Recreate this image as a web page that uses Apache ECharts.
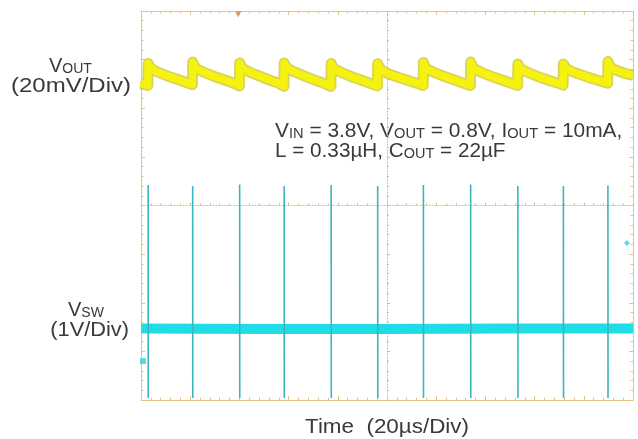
<!DOCTYPE html>
<html><head><meta charset="utf-8">
<script src="https://cdn.jsdelivr.net/npm/echarts/dist/echarts.min.js"></script>
<style>html,body{margin:0;padding:0;background:#fff}#c{width:638px;height:439px}</style>
</head><body><div id="c"></div>
<script>
// ---- data ----
// time axis: 10 divisions x 20 µs
const timeMinUs = 0, timeMaxUs = 200, timeDivUs = 20;
// VOUT (ac, mV) 20 mV/div, 8 divisions
const voutMinMv = -130, voutMaxMv = 30;
const voutTime = [0, 1.5, 2.8,
  2.9, 3.6, 4.8, 7.5, 11, 15, 18.5, 20.9,
  21.0, 21.7, 22.9, 26, 30, 34, 37.5, 40.0,
  40.1, 40.8, 42.0, 45, 49, 53, 56, 58.1,
  58.2, 58.9, 60.1, 63, 67, 71, 74.5, 77.2,
  77.3, 78.0, 79.2, 82, 86, 90, 93.5, 96.1,
  96.2, 96.9, 98.1, 101, 105, 109, 112.5, 114.7,
  114.8, 115.5, 116.7, 119.5, 123.5, 127.5, 131, 133.9,
  134.0, 134.7, 135.9, 139, 143, 147, 150.5, 153.1,
  153.2, 153.9, 155.1, 158, 162, 166, 169, 171.6,
  171.7, 172.4, 173.6, 176.5, 180.5, 184, 187, 189.7,
  189.8, 190.5, 191.7, 194.5, 197.5, 200];
const voutMv = [0.2, -0.3, -0.6,
  8.4, 6.9, 5.8, 4.6, 3.2, 1.8, 0.6, -0.3,
  9.0, 7.3, 6.0, 4.6, 3.0, 1.6, 0.4, -0.8,
  8.6, 7.0, 5.9, 4.5, 2.9, 1.3, 0.3, -1.0,
  8.6, 7.2, 6.0, 4.7, 3.0, 1.5, 0.2, -1.0,
  8.4, 6.9, 5.8, 4.5, 2.8, 1.4, 0.1, -0.8,
  8.3, 6.8, 5.4, 4.0, 2.6, 1.3, 0.2, -0.6,
  8.8, 7.1, 5.9, 4.6, 3.0, 1.6, 0.3, -0.6,
  9.0, 7.3, 6.0, 4.5, 2.9, 1.5, 0.3, -0.6,
  8.2, 6.8, 5.7, 4.4, 2.8, 1.4, 0.5, -0.5,
  8.2, 6.9, 5.8, 4.6, 3.2, 2.0, 1.1, 0.3,
  9.2, 7.5, 6.3, 5.1, 4.1, 3.5];
// VSW (V) 1 V/div, 8 divisions
const vswMinV = -0.8, vswMaxV = 7.2;
const vswTime = [0, 50, 100, 150, 200];
const vswV = [0.67, 0.66, 0.66, 0.67, 0.67];
const switchTimes = [2.9, 21.0, 40.1, 58.2, 77.3, 96.2, 114.8, 134.0, 153.2, 171.7, 189.8];
const spikeHighV = [3.62, 3.60, 3.63, 3.60, 3.62, 3.60, 3.62, 3.63, 3.60, 3.60, 3.61];
const spikeLowV = [-0.76, -0.76, -0.76, -0.76, -0.76, -0.76, -0.76, -0.76, -0.76, -0.76, -0.76];
// channel reference markers and trigger
const voutRefMv = 0, vswRefV = 0, trigLevelV = 2.43, trigLevelTimeUs = 197.5, trigTimeUs = 39.5;

// ---- chart ----
const chart = echarts.init(document.getElementById('c'), null, {renderer: 'canvas'});
const G = {left: 141, top: 11, width: 492, height: 389};
const frameC = '#e6c18a';
const font = '"Liberation Sans", Arial, sans-serif';
const txtC = '#3a3a3a';

function edge(axisType, idx, pos, min, max, interval) {
  return {type: 'value', gridIndex: idx, position: pos, min, max, interval,
    axisLine: {show: true, onZero: false, lineStyle: {color: frameC, width: 1}},
    axisTick: {show: true, inside: true, length: 4, lineStyle: {color: frameC}},
    minorTick: {show: true, splitNumber: 5, length: 2.5, lineStyle: {color: frameC}},
    axisLabel: {show: false}, splitLine: {show: false}, minorSplitLine: {show: false}};
}
function centerAx(min, max, interval) {
  return {type: 'value', gridIndex: 1, min, max, interval,
    axisLine: {show: true, onZero: true, lineStyle: {color: '#c4bcb0', type: [1, 2], width: 1}},
    axisTick: {show: true, inside: true, length: 3, lineStyle: {color: '#dcb88a'}},
    minorTick: {show: true, splitNumber: 5, length: 2, lineStyle: {color: '#dcb88a'}},
    axisLabel: {show: false}, splitLine: {show: false}};
}
function hidden(idx, min, max) {
  return {type: 'value', gridIndex: idx, min, max, show: false, splitLine: {show: false}};
}
const zip = (a, b) => a.map((v, i) => [v, b[i]]);
const spikeData = [];
switchTimes.forEach((t, i) => {
  spikeData.push([t, spikeHighV[i]], [t + 0.05, spikeLowV[i]], [t + 0.06, '-']);
});
const richStyles = {
  a: {fontSize: 20, fontFamily: font, fill: txtC, verticalAlign: 'bottom', lineHeight: 20},
  b: {fontSize: 14, fontFamily: font, fill: txtC, verticalAlign: 'bottom', lineHeight: 15}
};

const option = {
  animation: false,
  grid: [Object.assign({}, G), Object.assign({}, G), Object.assign({}, G), Object.assign({}, G)],
  xAxis: [
    edge('x', 0, 'bottom', timeMinUs, timeMaxUs, timeDivUs),
    edge('x', 0, 'top', timeMinUs, timeMaxUs, timeDivUs),
    centerAx(-100, 100, 20),
    hidden(2, timeMinUs, timeMaxUs),
    hidden(3, timeMinUs, timeMaxUs)
  ],
  yAxis: [
    edge('y', 0, 'left', 0, 8, 1),
    edge('y', 0, 'right', 0, 8, 1),
    centerAx(-4, 4, 1),
    hidden(2, voutMinMv, voutMaxMv),
    hidden(3, vswMinV, vswMaxV)
  ],
  series: [
    {type: 'line', xAxisIndex: 3, yAxisIndex: 3, data: zip(voutTime, voutMv), showSymbol: false,
     silent: true, lineStyle: {color: '#d2cc3c', width: 11, join: 'round', opacity: 0.85}},
    {type: 'line', xAxisIndex: 3, yAxisIndex: 3, data: zip(voutTime, voutMv), showSymbol: false,
     silent: true, lineStyle: {color: '#f4f20e', width: 7.5, join: 'round'}},
    {type: 'line', xAxisIndex: 4, yAxisIndex: 4, data: zip(vswTime, vswV), showSymbol: false,
     silent: true, lineStyle: {color: '#1fdde6', width: 10}},
    {type: 'line', xAxisIndex: 4, yAxisIndex: 4, data: spikeData, showSymbol: false, connectNulls: false,
     silent: true, lineStyle: {color: '#3ab5bd', width: 1.6}},
    {type: 'scatter', xAxisIndex: 3, yAxisIndex: 3, data: [[timeMinUs, voutRefMv]], symbol: 'rect',
     symbolSize: [6, 6], symbolOffset: [2, 0], itemStyle: {color: '#e8e424'}, silent: true},
    {type: 'scatter', xAxisIndex: 4, yAxisIndex: 4, data: [[timeMinUs, vswRefV]], symbol: 'rect',
     symbolSize: [6, 6], symbolOffset: [2, 0], itemStyle: {color: '#3ccfd6'}, silent: true},
    {type: 'scatter', xAxisIndex: 4, yAxisIndex: 4, data: [[trigLevelTimeUs, trigLevelV]], symbol: 'diamond',
     symbolSize: 6, itemStyle: {color: '#3ccfd6'}, silent: true},
    {type: 'scatter', xAxisIndex: 0, yAxisIndex: 0, data: [[trigTimeUs, 7.97]], symbol: 'triangle',
     symbolRotate: 180, symbolSize: 6, symbolOffset: [0, 2], itemStyle: {color: '#d08a3a'}, silent: true}
  ],
  graphic: [
    {type: 'text', x: 49, y: 76, style: {text: '{a|V}{b|OUT}', verticalAlign: 'bottom', rich: richStyles}},
    {type: 'text', x: 131, y: 96, scaleX: 1.2, style: {text: '(20mV/Div)', font: '20px ' + font, fill: txtC,
      align: 'right', verticalAlign: 'bottom'}},
    {type: 'text', x: 68, y: 320, style: {text: '{a|V}{b|SW}', verticalAlign: 'bottom', rich: richStyles}},
    {type: 'text', x: 129, y: 340, scaleX: 1.09, style: {text: '(1V/Div)', font: '20px ' + font, fill: txtC,
      align: 'right', verticalAlign: 'bottom'}},
    {type: 'text', x: 275, y: 141, scaleX: 1.045, style: {text: '{a|V}{b|IN}{a| = 3.8V, V}{b|OUT}{a| = 0.8V, I}{b|OUT}{a| = 10mA,}',
      verticalAlign: 'bottom', rich: richStyles}},
    {type: 'text', x: 275, y: 161, scaleX: 1.035, style: {text: '{a|L = 0.33µH, C}{b|OUT}{a| = 22µF}',
      verticalAlign: 'bottom', rich: richStyles}},
    {type: 'text', x: 387, y: 437, scaleX: 1.12, style: {text: 'Time  (20µs/Div)', font: '20px ' + font, fill: txtC,
      align: 'center', verticalAlign: 'bottom'}}
  ]
};
chart.setOption(option);
</script>
</body></html>
